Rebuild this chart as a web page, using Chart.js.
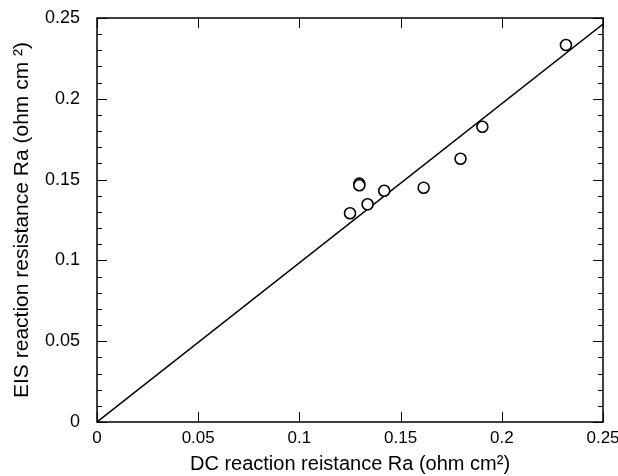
<!DOCTYPE html>
<html>
<head>
<meta charset="utf-8">
<script src="https://cdn.jsdelivr.net/npm/chart.js@4/dist/chart.umd.min.js"></script>
<style>
  html, body { margin: 0; padding: 0; background: #fff; }
  #wrap { width: 618px; height: 476px; }
</style>
</head>
<body>
<div id="wrap"><canvas id="chart"></canvas></div>
<script>
// measured points (DC Ra vs EIS Ra)
const dcRa  = [0.125, 0.1296, 0.1296, 0.1337, 0.1419, 0.1614, 0.1796, 0.1904, 0.2317];
const eisRa = [0.1292, 0.1475, 0.1465, 0.1347, 0.1431, 0.1450, 0.1629, 0.1827, 0.2333];

// fitted line
const fitX = [0, 0.25];
const fitY = [0, 0.2463];

const xTicks = [0, 0.05, 0.1, 0.15, 0.2, 0.25];
const yTicks = [0, 0.05, 0.1, 0.15, 0.2, 0.25];
const yMinor = [0.01, 0.02, 0.03, 0.04, 0.06, 0.07, 0.08, 0.09, 0.11, 0.12, 0.13, 0.14,
                0.16, 0.17, 0.18, 0.19, 0.21, 0.22, 0.23, 0.24];

const font = "'Liberation Sans', Arial, Helvetica, sans-serif";

function fmt(v) {
    return String(Math.round(v * 1000) / 1000);
}

// box + inward ticks on all four sides
const frame = {
    id: 'frame',
    afterDraw(chart) {
        const ctx = chart.ctx;
        const a = chart.chartArea;
        const x = chart.scales.x, y = chart.scales.y;
        ctx.save();
        ctx.strokeStyle = '#000';
        ctx.lineWidth = 1;
        ctx.beginPath();
        xTicks.forEach(v => {
            const px = Math.round(x.getPixelForValue(v)) + 0.5;
            ctx.moveTo(px, a.bottom); ctx.lineTo(px, a.bottom - 10);
            ctx.moveTo(px, a.top); ctx.lineTo(px, a.top + 10);
        });
        yTicks.forEach(v => {
            const py = Math.round(y.getPixelForValue(v)) + 0.5;
            ctx.moveTo(a.left, py); ctx.lineTo(a.left + 10, py);
            ctx.moveTo(a.right, py); ctx.lineTo(a.right - 10, py);
        });
        yMinor.forEach(v => {
            const py = Math.round(y.getPixelForValue(v)) + 0.5;
            ctx.moveTo(a.left, py); ctx.lineTo(a.left + 5, py);
            ctx.moveTo(a.right, py); ctx.lineTo(a.right - 5, py);
        });
        ctx.stroke();
        ctx.lineWidth = 1.5;
        ctx.strokeRect(a.left, a.top, a.right - a.left, a.bottom - a.top);
        ctx.restore();
    }
};

new Chart(document.getElementById('chart').getContext('2d'), {
    type: 'scatter',
    data: {
        datasets: [
            {
                type: 'line',
                data: fitX.map((v, i) => ({ x: v, y: fitY[i] })),
                borderColor: '#000',
                borderWidth: 1.5,
                pointRadius: 0,
                fill: false,
                order: 2
            },
            {
                data: dcRa.map((v, i) => ({ x: v, y: eisRa[i] })),
                pointRadius: 5.5,
                pointBorderWidth: 1.6,
                borderColor: '#000',
                backgroundColor: '#fff',
                order: 1
            }
        ]
    },
    options: {
        responsive: true,
        maintainAspectRatio: false,
        animation: false,
        layout: { padding: { left: 10, right: 15, top: 18, bottom: 0 } },
        plugins: { legend: { display: false }, tooltip: { enabled: false } },
        scales: {
            x: {
                type: 'linear', min: 0, max: 0.25,
                afterBuildTicks: s => { s.ticks = xTicks.map(v => ({ value: v })); },
                afterFit: s => { s.height = 54; s.paddingRight = 0; s.paddingLeft = 0; },
                grid: { display: false, drawTicks: false },
                border: { display: false },
                ticks: { color: '#000', padding: 6, maxRotation: 0, font: { family: font, size: 17 }, callback: fmt },
                title: { display: true, text: 'DC reaction reistance Ra (ohm cm²)', color: '#000',
                         font: { family: font, size: 20 }, padding: { top: 4, bottom: 0 } }
            },
            y: {
                type: 'linear', min: 0, max: 0.25,
                afterBuildTicks: s => { s.ticks = yTicks.map(v => ({ value: v })); },
                afterFit: s => { s.width = 87; s.paddingTop = 0; s.paddingBottom = 0; },
                grid: { display: false, drawTicks: false },
                border: { display: false },
                ticks: { color: '#000', padding: 17, font: { family: font, size: 18 }, callback: fmt },
                title: { display: true, text: 'EIS reaction resistance Ra (ohm cm ²)', color: '#000',
                         font: { family: font, size: 21 }, padding: { top: 0, bottom: 0 } }
            }
        }
    },
    plugins: [frame]
});
</script>
</body>
</html>
